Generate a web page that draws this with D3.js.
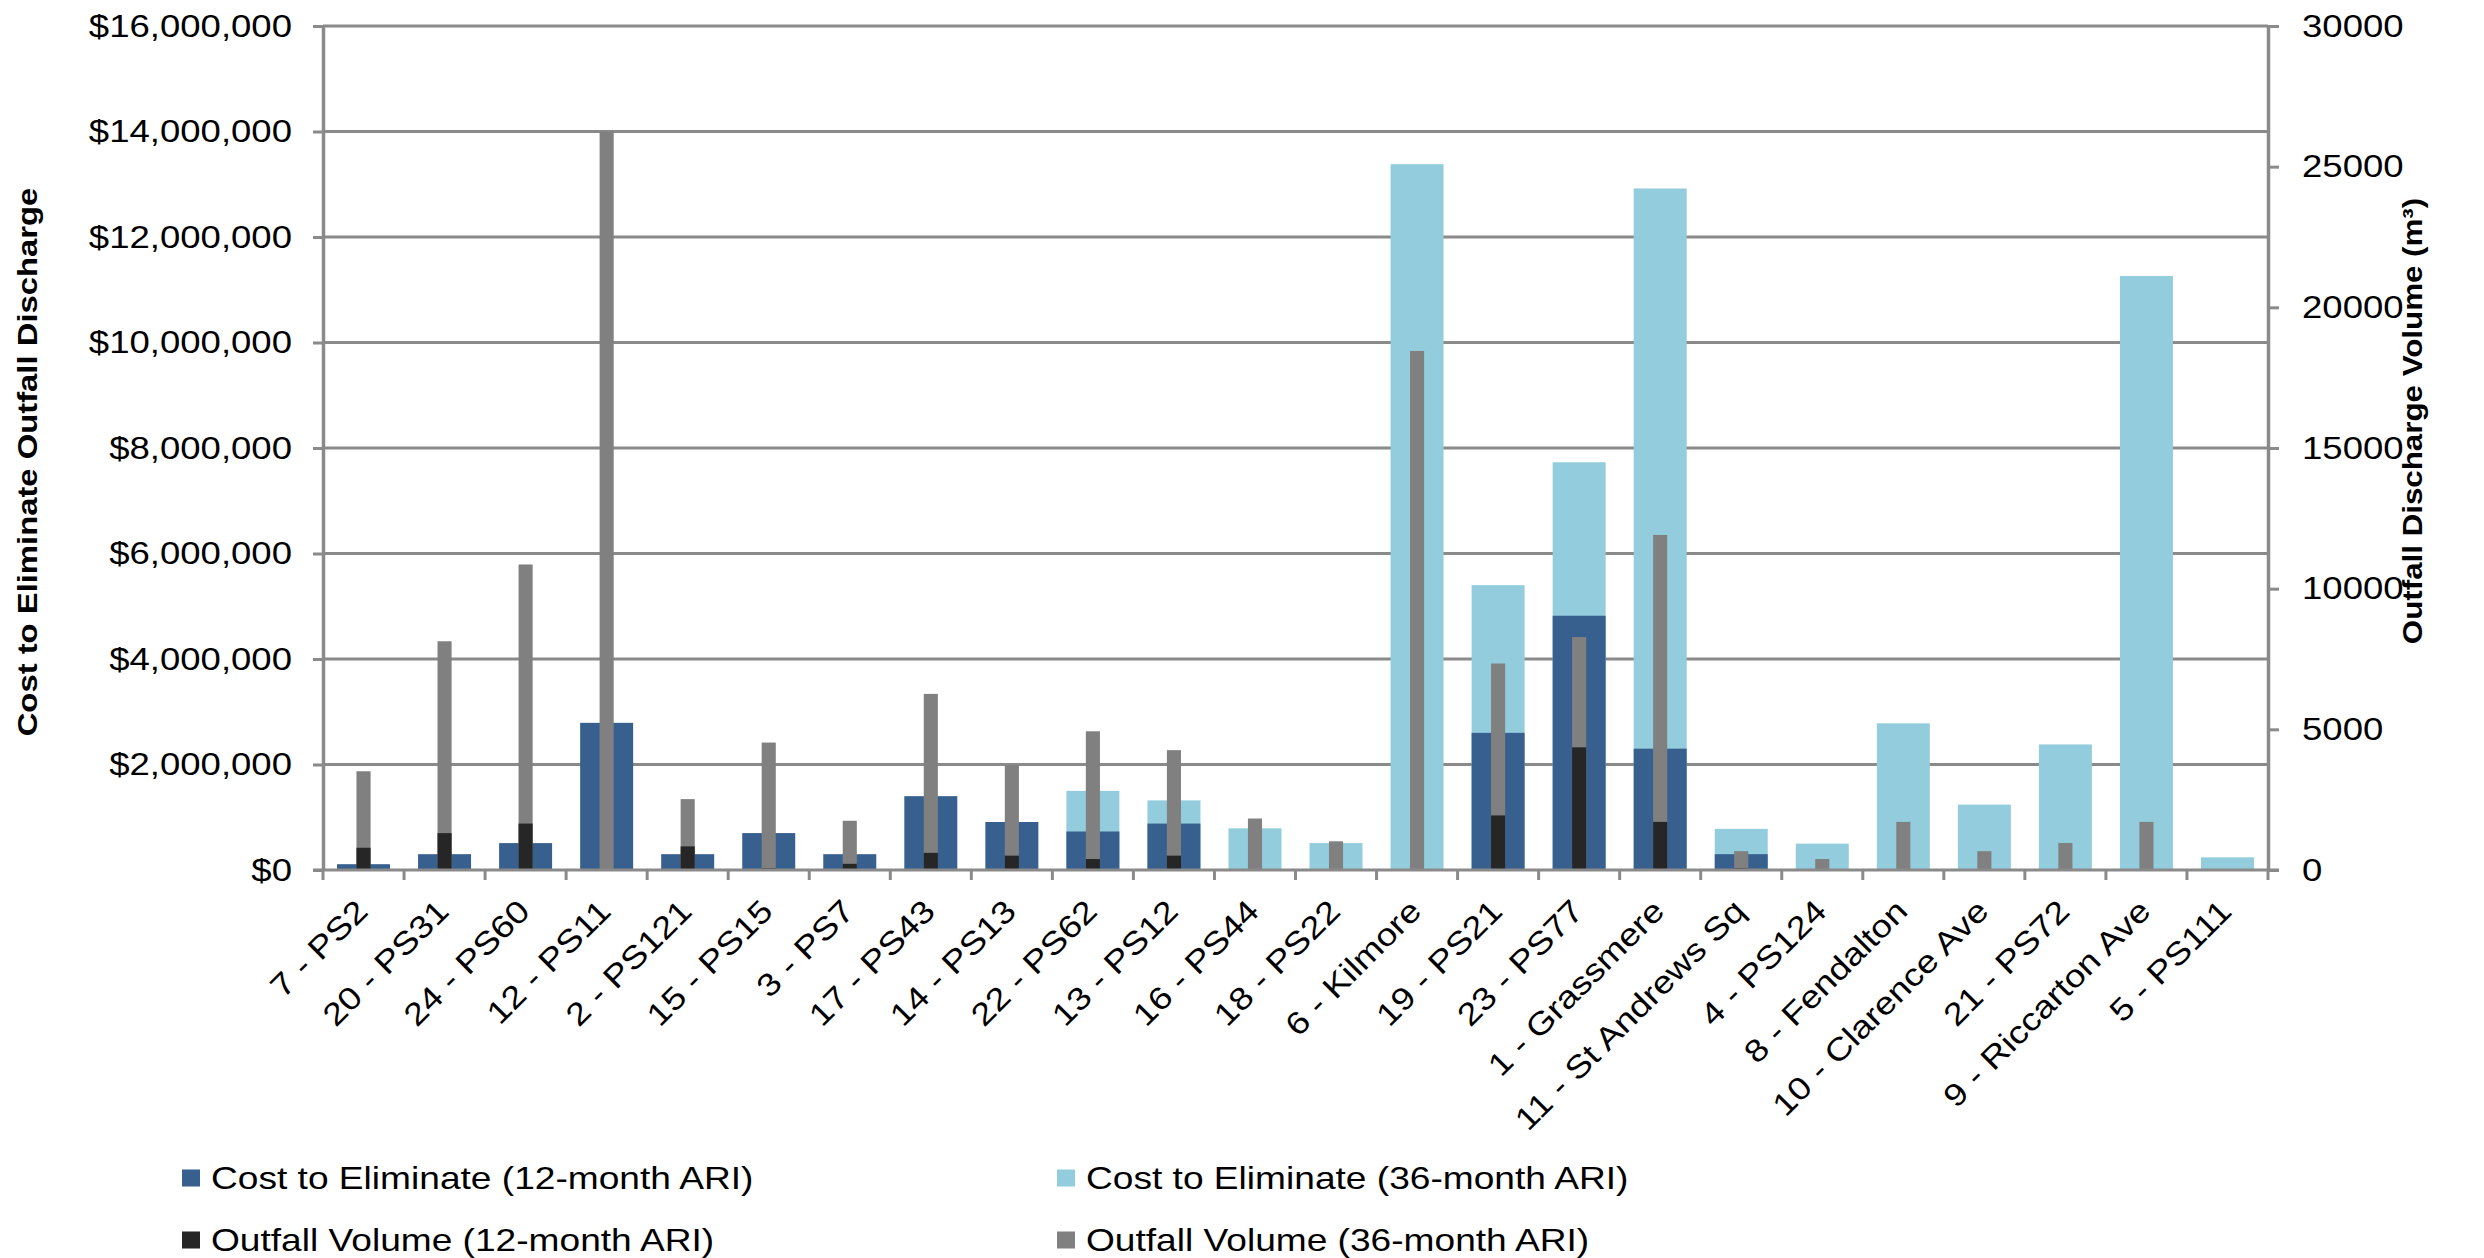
<!DOCTYPE html>
<html>
<head>
<meta charset="utf-8">
<script src="https://cdn.jsdelivr.net/npm/d3@7"></script>
<style>
  html, body { margin: 0; padding: 0; background: #ffffff; overflow: hidden; }
  svg text { font-family: "Liberation Sans", Arial, Helvetica, sans-serif; fill: #000; }
</style>
</head>
<body>
<svg id="chart"></svg>
<script>
// Pump stations, in the order they are plotted
const categories = [
  "7 - PS2", "20 - PS31", "24 - PS60", "12 - PS11", "2 - PS121", "15 - PS15",
  "3 - PS7", "17 - PS43", "14 - PS13", "22 - PS62", "13 - PS12", "16 - PS44",
  "18 - PS22", "6 - Kilmore", "19 - PS21", "23 - PS77", "1 - Grassmere",
  "11 - St Andrews Sq", "4 - PS124", "8 - Fendalton", "10 - Clarence Ave",
  "21 - PS72", "9 - Riccarton Ave", "5 - PS111"
];

// Cost to eliminate outfall discharge ($)
const cost12 = [
  110000, 300000, 510000, 2790000, 300000, 700000,
  300000, 1400000, 910000, 730000, 880000, null,
  null, null, 2600000, 4820000, 2300000,
  300000, null, null, null,
  null, null, null
];
const cost36 = [
  null, null, null, null, null, null,
  null, null, null, 1500000, 1320000, 790000,
  510000, 13380000, 5400000, 7730000, 12920000,
  780000, 500000, 2780000, 1240000,
  2380000, 11260000, 240000
];

// Outfall discharge volume (m3)
const vol12 = [
  790, 1310, 1650, null, 840, 60,
  220, 610, 510, 390, 510, null,
  null, null, 1940, 4360, 1710,
  60, null, null, null,
  null, null, null
];
const vol36 = [
  3510, 8130, 10860, 26250, 2520, 4530,
  1750, 6260, 3730, 4930, 4260, 1830,
  1020, 18450, 7340, 8280, 11910,
  670, 390, 1710, 670,
  960, 1710, null
];

const costTicks = [0, 2000000, 4000000, 6000000, 8000000, 10000000, 12000000, 14000000, 16000000];
const volTicks = [0, 5000, 10000, 15000, 20000, 25000, 30000];

const leftTitle = "Cost to Eliminate Outfall Discharge";
const rightTitle = "Outfall Discharge Volume (m³)";
const legendLabels = [
  "Cost to Eliminate (12-month ARI)", "Cost to Eliminate (36-month ARI)",
  "Outfall Volume (12-month ARI)", "Outfall Volume (36-month ARI)"
];
const colors = {
  cost12: "#37608f",
  cost36: "#93cddd",
  vol12: "#262626",
  vol36: "#808080",
  grid: "#8a8a8a"
};

// ---- layout
const W = 2484, H = 1258;
const plot = { left: 323, right: 2268, top: 26, bottom: 870 };
const FS = 31.5;
const GS = 1.16;   // glyphs are set wide: horizontal scale along the baseline

const svg = d3.select("#chart").attr("width", W).attr("height", H);

const xCat = d3.scaleBand().domain(categories).range([plot.left, plot.right]).padding(0);
const xCost = d3.scaleBand().domain(categories).range([plot.left, plot.right])
  .paddingInner(0.346).paddingOuter(0.173);
const xVol = d3.scaleBand().domain(categories).range([plot.left, plot.right])
  .paddingInner(0.826).paddingOuter(0.413);
const yCost = d3.scaleLinear().domain([0, 16000000]).range([plot.bottom, plot.top]);
const yVol = d3.scaleLinear().domain([0, 30000]).range([plot.bottom, plot.top]);

// ---- horizontal gridlines at every cost tick
svg.append("g").selectAll("line").data(costTicks.filter(t => t > 0)).join("line")
  .attr("x1", plot.left).attr("x2", plot.right)
  .attr("y1", d => yCost(d)).attr("y2", d => yCost(d))
  .attr("stroke", colors.grid).attr("stroke-width", 3);

// ---- bars
function barLayer(values, xs, ys, color) {
  const rows = categories.map((c, i) => ({ c, v: values[i] })).filter(d => d.v != null && d.v > 0);
  svg.append("g").selectAll("rect").data(rows).join("rect")
    .attr("x", d => xs(d.c)).attr("width", xs.bandwidth())
    .attr("y", d => ys(d.v)).attr("height", d => ys(0) - ys(d.v))
    .attr("fill", color);
}
barLayer(cost36, xCost, yCost, colors.cost36);
barLayer(cost12, xCost, yCost, colors.cost12);
barLayer(vol36, xVol, yVol, colors.vol36);
barLayer(vol12, xVol, yVol, colors.vol12);

// ---- value axes
function widenTickText(ax) {
  ax.selectAll(".tick text").each(function () {
    const t = d3.select(this);
    const x = +t.attr("x");
    t.attr("x", null).attr("transform", `translate(${x},0) scale(${GS},1)`)
      .attr("font-size", FS).attr("fill", "#000");
  });
}
const leftAxis = svg.append("g").attr("transform", `translate(${plot.left},0)`)
  .call(d3.axisLeft(yCost).tickValues(costTicks).tickSize(10).tickSizeOuter(0)
    .tickPadding(21).tickFormat(d3.format("$,")));
const rightAxis = svg.append("g").attr("transform", `translate(${plot.right},0)`)
  .call(d3.axisRight(yVol).tickValues(volTicks).tickSize(11).tickSizeOuter(0)
    .tickPadding(23).tickFormat(d3.format("d")));
[leftAxis, rightAxis].forEach(ax => {
  ax.select(".domain").attr("stroke", colors.grid).attr("stroke-width", 3.5);
  ax.selectAll(".tick line").attr("stroke", colors.grid).attr("stroke-width", 3);
  widenTickText(ax);
});

// ---- category axis: baseline, boundary ticks and slanted labels
const bottom = svg.append("g");
bottom.append("line")
  .attr("x1", plot.left - 10).attr("x2", plot.right + 11)
  .attr("y1", plot.bottom).attr("y2", plot.bottom)
  .attr("stroke", colors.grid).attr("stroke-width", 3);
const bounds = categories.map(c => xCat(c)).concat([plot.right]);
bottom.selectAll("line.tick").data(bounds).join("line").attr("class", "tick")
  .attr("x1", d => d).attr("x2", d => d)
  .attr("y1", plot.bottom).attr("y2", plot.bottom + 10)
  .attr("stroke", colors.grid).attr("stroke-width", 3);
bottom.selectAll("text").data(categories).join("text")
  .attr("transform", d =>
    `translate(${xCat(d) + xCat.bandwidth() / 2 + 6},${plot.bottom + 43}) rotate(-45) scale(${GS},1)`)
  .attr("text-anchor", "end")
  .attr("font-size", FS)
  .text(d => d);

// ---- axis titles
svg.append("text")
  .attr("transform", `translate(27,462) rotate(-90) scale(${GS},1)`)
  .attr("text-anchor", "middle").attr("dy", "0.35em")
  .attr("font-size", 28.3).attr("font-weight", "bold")
  .text(leftTitle);
svg.append("text")
  .attr("transform", `translate(2413,421) rotate(-90) scale(${GS},1)`)
  .attr("text-anchor", "middle").attr("dy", "0.35em")
  .attr("font-size", 27).attr("font-weight", "bold")
  .text(rightTitle);

// ---- legend (two columns, two rows)
const legendColors = [colors.cost12, colors.cost36, colors.vol12, colors.vol36];
const colX = [182, 1057];
const rowY = [1178, 1240];
const legend = svg.append("g").selectAll("g").data(legendLabels).join("g")
  .attr("transform", (d, i) => `translate(${colX[i % 2]},${rowY[Math.floor(i / 2)]})`);
legend.append("rect")
  .attr("x", 0).attr("y", -8.5).attr("width", 18).attr("height", 17)
  .attr("fill", (d, i) => legendColors[i]);
legend.append("text")
  .attr("transform", `translate(29,0) scale(${GS},1)`)
  .attr("dy", "0.35em")
  .attr("font-size", 32)
  .text(d => d);
</script>
</body>
</html>
